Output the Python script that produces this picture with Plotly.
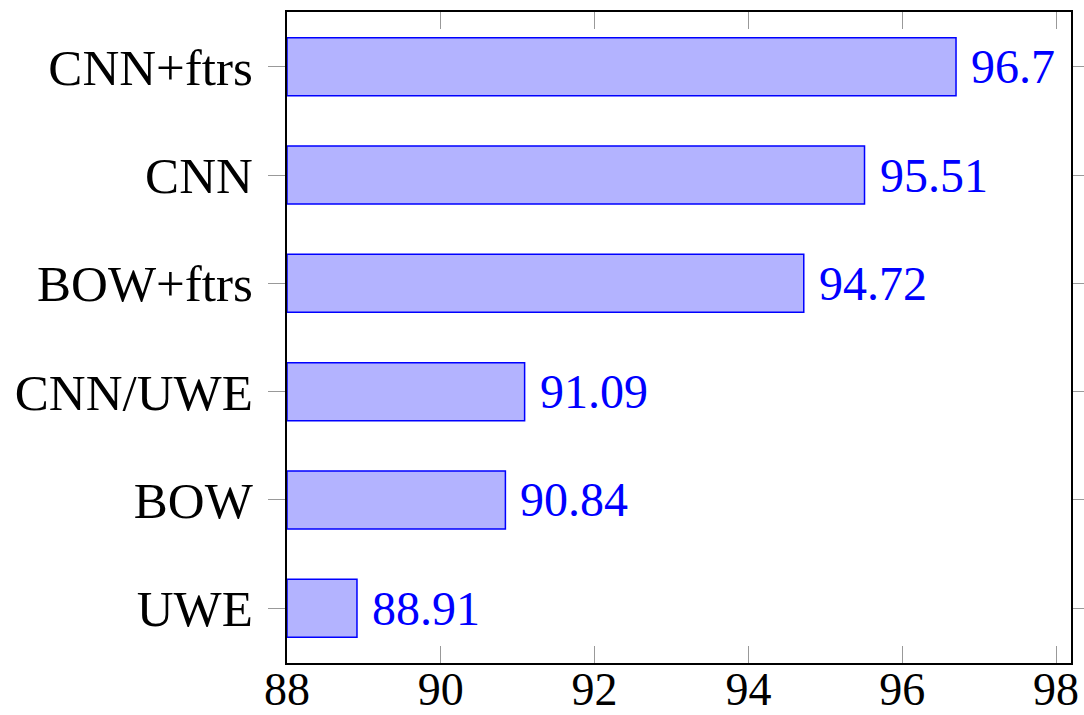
import plotly.graph_objects as go

# Accuracy (%) per model
models = ["UWE", "BOW", "CNN/UWE", "BOW+ftrs", "CNN", "CNN+ftrs"]
accuracy = [88.91, 90.84, 91.09, 94.72, 95.51, 96.7]
x_ticks = [88, 90, 92, 94, 96, 98]

FONT = "Liberation Serif"

fig = go.Figure()
fig.add_trace(go.Bar(
    y=models,
    x=[a - 88 for a in accuracy],
    base=88,
    orientation="h",
    width=0.535,
    marker=dict(color="#b3b3ff", line=dict(color="#0000ff", width=1.5)),
    hoverinfo="skip",
))

for m, a in zip(models, accuracy):
    fig.add_annotation(
        x=a, y=m, text=f"{a:g}", showarrow=False,
        xanchor="left", yanchor="middle", xshift=13,
        font=dict(family=FONT, size=48, color="#0000ff"),
    )

fig.update_layout(
    width=1084, height=715,
    margin=dict(l=287, r=13, t=12, b=52),
    plot_bgcolor="white", paper_bgcolor="white",
    showlegend=False,
    font=dict(family=FONT, size=48, color="black"),
)
fig.update_xaxes(
    range=[88, 98.195], tickvals=x_ticks, ticktext=[str(t) for t in x_ticks],
    showgrid=False, zeroline=False, automargin=False,
    showline=True, linecolor="black", linewidth=2, mirror="ticks",
    ticks="inside", ticklen=17, tickcolor="#999999", tickwidth=1,
    tickfont=dict(family=FONT, size=46), ticklabelstandoff=-15,
)
fig.update_yaxes(
    range=[-0.505, 5.505], categoryorder="array", categoryarray=models,
    showgrid=False, zeroline=False, automargin=False,
    showline=True, linecolor="black", linewidth=2, mirror="ticks",
    ticks="outside", ticklen=17, tickcolor="#999999", tickwidth=1,
    tickfont=dict(family=FONT, size=51), ticklabelstandoff=5,
)

fig.write_html("out.html")
